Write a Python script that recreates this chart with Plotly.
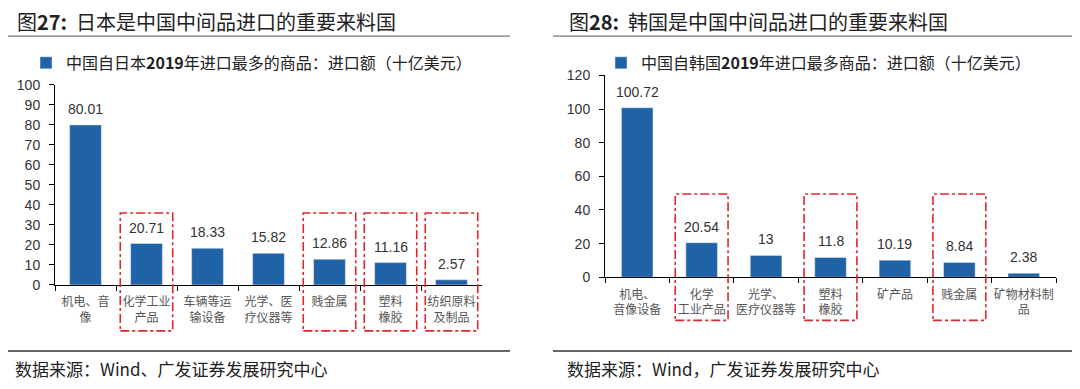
import plotly.graph_objects as go

# ---------------- data ----------------
jp_categories = ["机电、音<br>像", "化学工业<br>产品", "车辆等运<br>输设备", "光学、医<br>疗仪器等",
                 "贱金属", "塑料<br>橡胶", "纺织原料<br>及制品"]
jp_values = [80.01, 20.71, 18.33, 15.82, 12.86, 11.16, 2.57]
jp_highlight = [1, 4, 5, 6]

kr_categories = ["机电、<br>音像设备", "化学<br>工业产品", "光学、<br>医疗仪器等", "塑料<br>橡胶",
                 "矿产品", "贱金属", "矿物材料制<br>品"]
kr_values = [100.72, 20.54, 13, 11.8, 10.19, 8.84, 2.38]
kr_highlight = [1, 3, 5]

jp_title = "图<b>27:</b>  日本是中国中间品进口的重要来料国"
kr_title = "图<b>28:</b>  韩国是中国中间品进口的重要来料国"
jp_series = "中国自日本<b>2019</b>年进口最多的商品：进口额（十亿美元）"
kr_series = "中国自韩国<b>2019</b>年进口最多商品：进口额（十亿美元）"
jp_source = "数据来源：Wind、广发证券发展研究中心"
kr_source = "数据来源：Wind，广发证券发展研究中心"

# ---------------- style ----------------
W, H = 1080, 389          # target window
OFF = 8                   # default body margin of the html page
FW, FH = W - 2 * OFF, H - 2 * OFF
BAR = "#1f62a5"
RED = "#e0262e"
CJK = "Noto Sans CJK SC, Noto Sans, sans-serif"
NUM = "Liberation Sans, Arial, sans-serif"


def xp(x):
    return (x - OFF) / FW


def yp(y):
    return 1 - (y - OFF) / FH


# plot areas in window pixels (left, top, right, bottom)
jp_px = (55, 80, 482, 289)
kr_px = (605, 70, 1056, 281)


def dom(px):
    l, t, r, b = px
    return [xp(l), xp(r)], [yp(b), yp(t)]


jx, jy = dom(jp_px)
kx, ky = dom(kr_px)

fig = go.Figure()
fig.add_trace(go.Bar(x=jp_categories, y=jp_values, marker_color=BAR, name=jp_series,
                     xaxis="x", yaxis="y", legend="legend", width=0.52))
fig.add_trace(go.Bar(x=kr_categories, y=kr_values, marker_color=BAR, name=kr_series,
                     xaxis="x2", yaxis="y2", legend="legend2", width=0.49))

annotations = []
shapes = []


def panel(cats, vals, hl, xa, ya, px, ymax, box_top, box_bottom_px, box_half):
    n = len(cats)
    ph = px[3] - px[1]
    for c, v in zip(cats, vals):
        annotations.append(dict(x=c, y=v, xref=xa, yref=ya, text=f"{v:g}", showarrow=False,
                                yanchor="bottom", yshift=6,
                                font=dict(family=NUM, size=14, color="#333")))
    for i in hl:
        shapes.append(dict(type="rect", xref=f"{xa} domain", yref=f"{ya} domain",
                           x0=(i + 0.5 - box_half) / n, x1=(i + 0.5 + box_half) / n,
                           y0=-box_bottom_px / ph, y1=box_top / ymax,
                           line=dict(color=RED, width=1.6, dash="dashdot"),
                           fillcolor="rgba(0,0,0,0)", layer="above"))


panel(jp_categories, jp_values, jp_highlight, "x", "y", jp_px, 100, 36, 48, 0.43)
panel(kr_categories, kr_values, kr_highlight, "x2", "y2", kr_px, 120, 49.5, 45, 0.41)

# titles, sources
for txt, xpx in [(jp_title, 15), (kr_title, 567)]:
    annotations.append(dict(text=txt, x=xp(xpx), y=yp(14), xref="paper", yref="paper",
                            xanchor="left", yanchor="middle", showarrow=False,
                            font=dict(family=CJK, size=20, color="#222")))
for txt, xpx in [(jp_source, 13), (kr_source, 565)]:
    annotations.append(dict(text=txt, x=xp(xpx), y=yp(376), xref="paper", yref="paper",
                            xanchor="left", yanchor="middle", showarrow=False,
                            font=dict(family=CJK, size=17, color="#222")))

# separator lines
for x0, x1 in [(2, 510), (553, 1080)]:
    shapes.append(dict(type="line", xref="paper", yref="paper", x0=xp(x0), x1=xp(x1),
                       y0=yp(29), y1=yp(29), line=dict(color="#777", width=1.2)))
    shapes.append(dict(type="line", xref="paper", yref="paper", x0=xp(x0), x1=xp(x1),
                       y0=yp(358), y1=yp(358), line=dict(color="#333", width=1.5)))

xcommon = dict(showgrid=False, showline=True, linecolor="#000", linewidth=1,
               ticks="outside", tickson="boundaries", ticklen=5, tickcolor="#000",
               tickfont=dict(family=CJK, size=12, color="#555"), ticklabelstandoff=6,
               tickangle=0, fixedrange=True)
ycommon = dict(showgrid=False, showline=True, linecolor="#000", linewidth=1, zeroline=False,
               ticks="outside", ticklen=5, tickcolor="#000",
               tickfont=dict(family=NUM, size=14, color="#333"), ticklabelstandoff=6,
               fixedrange=True)

legcommon = dict(orientation="h", xanchor="left", yanchor="middle", bgcolor="rgba(0,0,0,0)",
                 font=dict(family=CJK, size=16, color="#222"), itemclick=False)

fig.update_layout(
    width=FW, height=FH, autosize=False,
    margin=dict(l=0, r=0, t=0, b=0),
    paper_bgcolor="white", plot_bgcolor="white",
    barmode="group",
    showlegend=True,
    xaxis=dict(domain=jx, anchor="y", range=[-0.5, 6.5], **xcommon),
    yaxis=dict(domain=jy, anchor="x", range=[0, 100], dtick=10, **ycommon),
    xaxis2=dict(domain=kx, anchor="y2", range=[-0.5, 6.5], **xcommon),
    yaxis2=dict(domain=ky, anchor="x2", range=[0, 120], dtick=20, **ycommon),
    legend=dict(x=xp(26), y=yp(57), **legcommon),
    legend2=dict(x=xp(601), y=yp(57), **legcommon),
    annotations=annotations,
    shapes=shapes,
)

fig.write_html("out.html")
